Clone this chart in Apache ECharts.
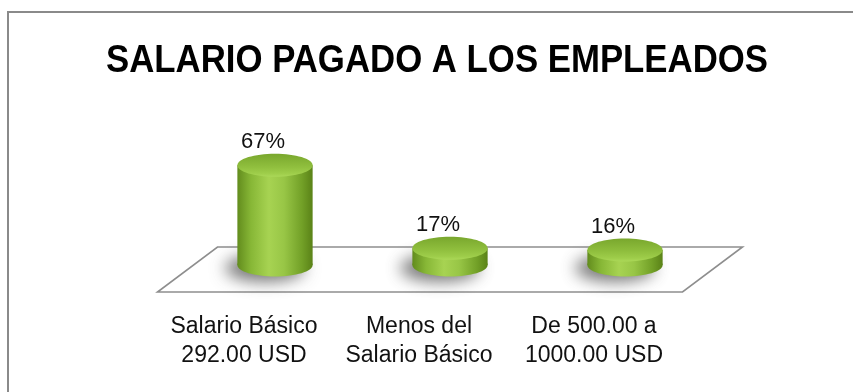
<!DOCTYPE html>
<html>
<head>
<meta charset="utf-8">
<script src="https://cdn.jsdelivr.net/npm/echarts@6/dist/echarts.min.js"></script>
<style>
  html, body { margin: 0; padding: 0; background: #ffffff; }
  #chart { width: 853px; height: 392px; }
</style>
</head>
<body>
<div id="chart"></div>
<script>
// Salary distribution of employees (share of staff, %)
const titleText = 'SALARIO PAGADO A LOS EMPLEADOS';
const categories = ['Salario Básico\n292.00 USD', 'Menos del\nSalario Básico', 'De 500.00 a\n1000.00 USD'];
const percentages = [67, 17, 16];

const chart = echarts.init(document.getElementById('chart'), null, { renderer: 'canvas' });

const labelFont = '"Liberation Sans", Arial, sans-serif';

function bodyFill() {
  return new echarts.graphic.LinearGradient(0, 0, 1, 0, [
    { offset: 0, color: '#628c1d' },
    { offset: 0.18, color: '#87b736' },
    { offset: 0.42, color: '#a7d352' },
    { offset: 0.62, color: '#98c646' },
    { offset: 0.86, color: '#72a027' },
    { offset: 1, color: '#5a8217' }
  ]);
}

function capFill() {
  return new echarts.graphic.LinearGradient(0, 0, 0, 1, [
    { offset: 0, color: '#79a72d' },
    { offset: 0.55, color: '#8fbe3d' },
    { offset: 0.85, color: '#9ecd4a' },
    { offset: 1, color: '#abd858' }
  ]);
}

// Floor plane under the cylinders, derived from the grid rectangle
function renderFloor(params) {
  const cs = params.coordSys;
  const base = cs.y + cs.height;
  const back = base - 18, front = base + 27;
  return {
    type: 'polygon',
    silent: true,
    shape: {
      points: [
        [cs.x + 30, back], [cs.x + cs.width + 30, back],
        [cs.x + cs.width - 30, front], [cs.x - 30, front]
      ]
    },
    style: { fill: '#ffffff', stroke: '#8e8e8e', lineWidth: 1.6 }
  };
}

// One cylinder per category: the rim top sits at the value, the base ellipse at zero
function renderCylinder(params, api) {
  const idx = api.value(0);
  const val = api.value(1);
  const top = api.coord([idx, val]);
  const base = api.coord([idx, 0]);
  const w = api.size([1, 0])[0] * 0.43;
  const rx = w / 2, ry = 11.5;
  const cx = base[0];
  const capCy = top[1] + ry;
  const baseCy = base[1];
  const off = 2000;
  return {
    type: 'group',
    children: [
      {
        // soft contact shadow (shape kept off canvas, only its blur is seen)
        type: 'ellipse',
        silent: true,
        shape: { cx: cx - 10 - off, cy: baseCy + 3, rx: rx + 2, ry: ry + 2 },
        style: {
          fill: '#000', shadowColor: 'rgba(60,60,60,0.7)',
          shadowBlur: 16, shadowOffsetX: off, shadowOffsetY: 0
        }
      },
      {
        type: 'ellipse',
        shape: { cx: cx, cy: baseCy, rx: rx, ry: ry },
        style: { fill: bodyFill() }
      },
      {
        type: 'rect',
        shape: { x: cx - rx, y: capCy, width: w, height: baseCy - capCy },
        style: { fill: bodyFill() }
      },
      {
        type: 'ellipse',
        shape: { cx: cx, cy: capCy, rx: rx, ry: ry },
        style: { fill: capFill() }
      },
      {
        type: 'text',
        style: {
          x: cx - 12, y: top[1] - 12,
          text: val + '%',
          fill: '#111111',
          font: '22px ' + labelFont,
          align: 'center', verticalAlign: 'middle'
        }
      }
    ]
  };
}

chart.setOption({
  backgroundColor: '#ffffff',
  animation: false,
  graphic: [
    {
      type: 'rect',
      silent: true,
      shape: { x: 8, y: 12, width: 1000, height: 600 },
      style: { fill: 'none', stroke: '#8a8a8a', lineWidth: 2 }
    },
    {
      type: 'text',
      silent: true,
      x: 437, y: 62,
      scaleX: 0.915, scaleY: 1,
      style: {
        x: 0, y: 0,
        text: titleText,
        fill: '#000000',
        font: 'bold 38px "Liberation Sans", Arial, sans-serif',
        align: 'center', verticalAlign: 'middle'
      }
    }
  ],
  grid: { left: 187.5, right: 140.5, top: 99, bottom: 127, containLabel: false },
  xAxis: {
    type: 'category',
    data: categories,
    axisLine: { show: false },
    axisTick: { show: false },
    splitLine: { show: false },
    axisLabel: {
      interval: 0,
      margin: 47,
      fontSize: 23,
      lineHeight: 29,
      fontFamily: labelFont,
      color: '#111111',
      align: 'center',
      padding: [0, 62, 0, 0]
    }
  },
  yAxis: {
    type: 'value',
    min: 0,
    max: 100,
    show: false
  },
  series: [
    {
      type: 'custom',
      z: 1,
      silent: true,
      renderItem: renderFloor,
      data: [[0]]
    },
    {
      type: 'custom',
      z: 2,
      renderItem: renderCylinder,
      encode: { x: 0, y: 1 },
      data: percentages.map((v, i) => [i, v])
    }
  ]
});
</script>
</body>
</html>
